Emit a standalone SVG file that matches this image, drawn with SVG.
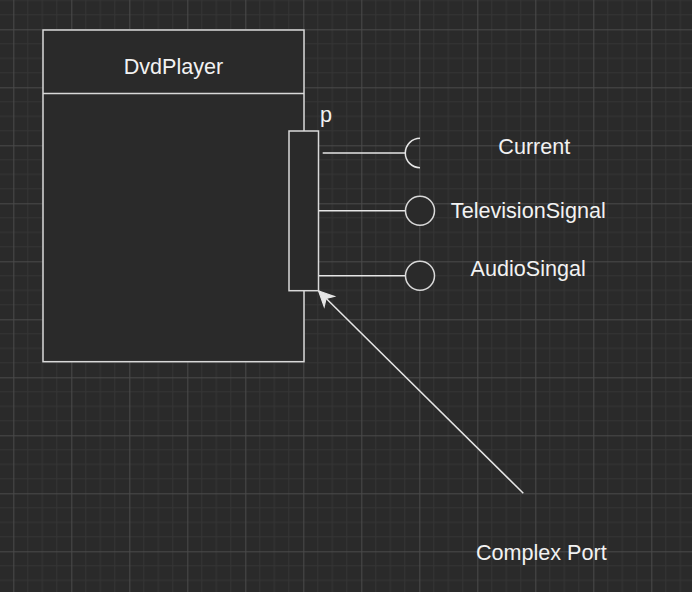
<svg xmlns="http://www.w3.org/2000/svg" width="692" height="592" viewBox="0 0 692 592">
<style>
.bg{fill:#2a2a2a}
.minor{stroke:#353535;stroke-width:1}
.major{stroke:#4a4a4a;stroke-width:1}
.shape{fill:#2a2a2a;stroke:#d9d9d9;stroke-width:1.5}
.wire{fill:none;stroke:#e6e6e6;stroke-width:1.5}
.lbl{font-family:"Liberation Sans",Arial,sans-serif;font-size:21.6px;fill:#f2f2f2;text-anchor:middle}
</style>
<defs>
<pattern id="grid" patternUnits="userSpaceOnUse" x="13.3" y="29.3" width="58" height="58">
<rect width="58" height="58" fill="#2a2a2a"/>
<path class="minor" d="M14.5 0V58M29 0V58M43.5 0V58M0 14.5H58M0 29H58M0 43.5H58"/>
<path class="major" d="M0.5 0V58M0 0.5H58"/>
</pattern>
<marker id="arrow" markerUnits="userSpaceOnUse" markerWidth="20" markerHeight="20" viewBox="-16 -8 18 16" refX="0" refY="0" orient="auto">
<path d="M0 0L-13.5 -6.5L-9.5 0L-13.5 6.5Z" fill="#e6e6e6" stroke="#e6e6e6" stroke-width="1"/>
</marker>
</defs>
<rect class="bg" width="692" height="592"/>
<rect width="692" height="592" fill="url(#grid)"/>
<g id="DvdPlayer">
<rect class="shape" x="43" y="30" width="261" height="331.7"/>
<line class="shape" x1="43" y1="93.5" x2="304" y2="93.5"/>
<text class="lbl" x="173.5" y="74">DvdPlayer</text>
</g>
<g id="connectors">
<line class="wire" x1="322.7" y1="153" x2="405.5" y2="153"/>
<line class="wire" x1="318.5" y1="210.7" x2="405.5" y2="210.7"/>
<line class="wire" x1="318.5" y1="275.7" x2="405.5" y2="275.7"/>
<line class="wire" x1="523.3" y1="493.3" x2="318.6" y2="291" marker-end="url(#arrow)"/>
</g>
<g id="port">
<rect class="shape" x="289" y="131" width="29.5" height="159.7"/>
<text class="lbl" x="326" y="122">p</text>
</g>
<g id="Current">
<path class="wire" d="M420 138.3A14.7 14.7 0 0 0 420 167.7"/>
<text class="lbl" x="534.3" y="154">Current</text>
</g>
<g id="TelevisionSignal">
<circle class="shape" cx="420" cy="210.7" r="14.5"/>
<text class="lbl" x="528.3" y="218.3">TelevisionSignal</text>
</g>
<g id="AudioSingal">
<circle class="shape" cx="420" cy="275.8" r="14.5"/>
<text class="lbl" x="528.2" y="276">AudioSingal</text>
</g>
<g id="ComplexPort">
<text class="lbl" x="541.3" y="560">Complex Port</text>
</g>
</svg>
